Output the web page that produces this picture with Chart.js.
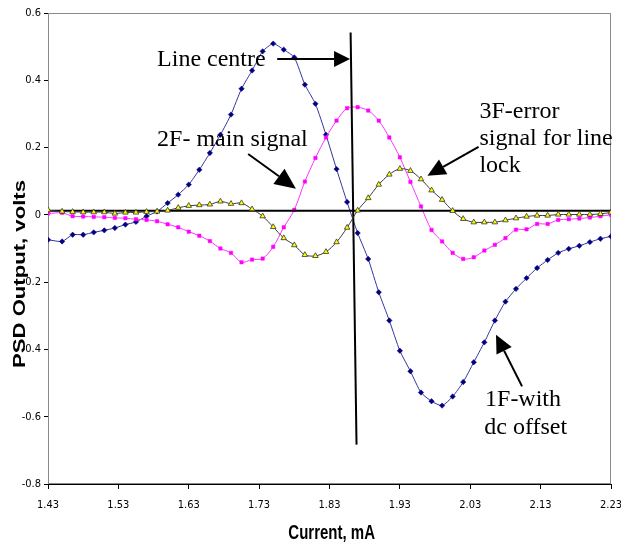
<!DOCTYPE html>
<html><head><meta charset="utf-8">
<script src="https://cdn.jsdelivr.net/npm/chart.js@4.4.1/dist/chart.umd.min.js"></script>
<style>html,body{margin:0;padding:0;background:#fff}#wrap{width:621px;height:543px}</style>
</head><body><div id="wrap"><canvas id="c" width="621" height="543"></canvas></div>
<script>
// ---- data (current in mA, PSD output in volts) ----
const currentMA = [1.43, 1.45, 1.465, 1.48, 1.495, 1.51, 1.525, 1.54, 1.555, 1.57, 1.585, 1.6, 1.615, 1.63,
  1.645, 1.66, 1.675, 1.69, 1.705, 1.72, 1.735, 1.75, 1.765, 1.78, 1.795, 1.81, 1.825, 1.84, 1.855, 1.87,
  1.885, 1.9, 1.915, 1.93, 1.945, 1.96, 1.975, 1.99, 2.005, 2.02, 2.035, 2.05, 2.065, 2.08, 2.095, 2.11,
  2.125, 2.14, 2.155, 2.17, 2.185, 2.2, 2.215, 2.23];
const signal1F = [-0.074, -0.079, -0.059, -0.059, -0.052, -0.046, -0.039, -0.029, -0.021, -0.004, 0.010, 0.035,
  0.060, 0.090, 0.134, 0.184, 0.238, 0.298, 0.375, 0.429, 0.486, 0.509, 0.491, 0.468, 0.387, 0.330, 0.238,
  0.136, 0.038, -0.054, -0.131, -0.230, -0.314, -0.404, -0.465, -0.528, -0.554, -0.567, -0.540, -0.497,
  -0.438, -0.379, -0.314, -0.258, -0.220, -0.188, -0.158, -0.134, -0.113, -0.101, -0.092, -0.081, -0.071, -0.064];
const signal2F = [0.004, 0.006, -0.004, -0.005, -0.006, -0.007, -0.009, -0.010, -0.013, -0.015, -0.019, -0.028,
  -0.037, -0.050, -0.062, -0.078, -0.100, -0.113, -0.141, -0.133, -0.130, -0.095, -0.037, 0.015, 0.099, 0.169,
  0.230, 0.280, 0.317, 0.320, 0.310, 0.280, 0.230, 0.171, 0.098, 0.025, -0.045, -0.079, -0.113, -0.131,
  -0.126, -0.106, -0.089, -0.069, -0.044, -0.043, -0.027, -0.027, -0.015, -0.013, -0.011, -0.008, -0.004, 0.000];
const signal3F = [0.014, 0.010, 0.009, 0.008, 0.008, 0.008, 0.004, 0.007, 0.007, 0.009, 0.010, 0.013, 0.021,
  0.027, 0.029, 0.031, 0.040, 0.033, 0.035, 0.017, -0.004, -0.036, -0.069, -0.090, -0.119, -0.122, -0.110,
  -0.081, -0.038, 0.013, 0.050, 0.090, 0.120, 0.137, 0.131, 0.106, 0.073, 0.045, 0.012, -0.012, -0.022,
  -0.022, -0.022, -0.016, -0.010, -0.005, -0.002, -0.002, 0.001, 0.001, 0.001, 0.001, 0.003, 0.007];
const xTickValues = [1.43, 1.53, 1.63, 1.73, 1.83, 1.93, 2.03, 2.13, 2.23];
// reference lines drawn on the chart
const zeroLineX = [1.43, 2.23];
const zeroLineY = [0.012, 0.012];
const centreLineX = [1.860, 1.8684];
const centreLineY = [0.542, -0.683];
// annotation texts (left edge / baseline in data units)
const noteTexts = ['Line centre', '2F- main signal', '3F-error', 'signal for line', 'lock', '1F-with', 'dc offset'];
const noteX = [1.585, 1.585, 2.043, 2.043, 2.043, 2.051, 2.050];
const noteY = [0.441, 0.204, 0.288, 0.207, 0.126, -0.569, -0.650];
// arrows: start -> tip (data units)
const arrowX0 = [1.7557, 1.7144, 2.0418, 2.1036];
const arrowY0 = [0.4634, 0.181, 0.2018, -0.5098];
const arrowX1 = [1.8592, 1.7823, 1.9692, 2.0666];
const arrowY1 = [0.4634, 0.0779, 0.1165, -0.3561];

const toPts = (xs, ys) => xs.map((x, i) => ({x: x, y: ys[i]}));

function drawArrow(ctx, x1, y1, x2, y2, len, hw) {
  const a = Math.atan2(y2 - y1, x2 - x1);
  const bx = x2 - len * Math.cos(a), by = y2 - len * Math.sin(a);
  ctx.beginPath(); ctx.moveTo(x1, y1); ctx.lineTo(bx, by); ctx.lineWidth = 2; ctx.stroke();
  ctx.beginPath(); ctx.moveTo(x2, y2);
  ctx.lineTo(bx + hw * Math.sin(a), by - hw * Math.cos(a));
  ctx.lineTo(bx - hw * Math.sin(a), by + hw * Math.cos(a));
  ctx.closePath(); ctx.fill();
}

const annot = {
  id: 'annot',
  beforeDatasetsDraw(chart) {
    const {ctx, chartArea: a} = chart;
    ctx.save();
    ctx.strokeStyle = '#8a8a8a'; ctx.lineWidth = 1;
    ctx.strokeRect(a.left + 0.5, a.top + 0.5, a.right - a.left - 1, a.bottom - a.top - 1);
    ctx.restore();
  },
  afterDraw(chart) {
    const {ctx, scales: {x, y}} = chart;
    ctx.save();
    ctx.fillStyle = '#000'; ctx.strokeStyle = '#000';
    ctx.font = '24px "Liberation Serif", "Times New Roman", serif';
    ctx.textAlign = 'left'; ctx.textBaseline = 'alphabetic';
    noteTexts.forEach((t, i) => ctx.fillText(t, x.getPixelForValue(noteX[i]), y.getPixelForValue(noteY[i])));
    const heads = [[16, 8], [21, 9.5], [18, 8.5], [18, 8.5]];
    arrowX0.forEach((v, i) => drawArrow(ctx,
      x.getPixelForValue(v), y.getPixelForValue(arrowY0[i]),
      x.getPixelForValue(arrowX1[i]), y.getPixelForValue(arrowY1[i]), heads[i][0], heads[i][1]));
    // axis titles (vertically stretched like the original)
    ctx.font = 'bold 15px "Liberation Sans", Arial, sans-serif';
    ctx.textAlign = 'center';
    ctx.save(); ctx.translate(331.7, 539); ctx.scale(1, 1.34); ctx.fillText('Current, mA', 0, 0); ctx.restore();
    ctx.font = 'bold 16.5px "Liberation Sans", Arial, sans-serif';
    ctx.save(); ctx.translate(24.5, 274); ctx.rotate(-Math.PI / 2); ctx.scale(1.34, 1); ctx.fillText('PSD Output, volts', 0, 0); ctx.restore();
    ctx.restore();
  }
};

const tickFont = {family: '"Liberation Sans Narrow", "DejaVu Sans Condensed", "Liberation Sans", sans-serif', size: 11};

new Chart(document.getElementById('c'), {
  type: 'line',
  data: {
    datasets: [
      {label: '3F', data: toPts(currentMA, signal3F), borderColor: '#3c3c3c', borderWidth: 1,
        pointStyle: 'triangle', pointRadius: 3.2, pointBackgroundColor: '#ffff00', pointBorderColor: '#333',
        pointBorderWidth: 0.8, tension: 0.3, order: 0},
      {label: 'zero', data: toPts(zeroLineX, zeroLineY), borderColor: '#000', borderWidth: 2, pointRadius: 0, order: 1},
      {label: 'centre', data: toPts(centreLineX, centreLineY), borderColor: '#000', borderWidth: 2, pointRadius: 0, order: 1},
      {label: '2F', data: toPts(currentMA, signal2F), borderColor: '#ff33ff', borderWidth: 1,
        pointStyle: 'rect', pointRadius: 2.4, pointBackgroundColor: '#ff00ff', pointBorderColor: '#ff00ff',
        pointBorderWidth: 0.5, tension: 0.3, order: 2},
      {label: '1F', data: toPts(currentMA, signal1F), borderColor: '#34349c', borderWidth: 1,
        pointStyle: 'rectRot', pointRadius: 2.7, pointBackgroundColor: '#000080', pointBorderColor: '#000080',
        pointBorderWidth: 0.5, tension: 0.2, order: 3}
    ]
  },
  options: {
    responsive: false, animation: false, devicePixelRatio: 1,
    layout: {padding: {top: 13, right: 10, left: 0, bottom: 0}},
    plugins: {legend: {display: false}, tooltip: {enabled: false}},
    scales: {
      x: {
        type: 'linear', min: 1.43, max: 2.23,
        afterBuildTicks: s => { s.ticks = xTickValues.map(v => ({value: v})); },
        afterFit: s => { s.height = 59; s.paddingLeft = 0; s.paddingRight = 0; },
        ticks: {autoSkip: false, maxRotation: 0, padding: 10, color: '#000', font: tickFont,
          callback: v => Number(v).toFixed(2)},
        grid: {drawOnChartArea: false, tickLength: 5, color: '#000'},
        border: {color: '#000', width: 1}
      },
      y: {
        min: -0.8, max: 0.6,
        afterFit: s => { s.width = 48; s.paddingTop = 0; s.paddingBottom = 0; },
        ticks: {stepSize: 0.2, padding: 3, color: '#000', font: tickFont,
          callback: v => String(Math.round(v * 10) / 10)},
        grid: {drawOnChartArea: false, tickLength: 4, color: '#000'},
        border: {color: '#000', width: 1}
      }
    }
  },
  plugins: [annot]
});
</script></body></html>
